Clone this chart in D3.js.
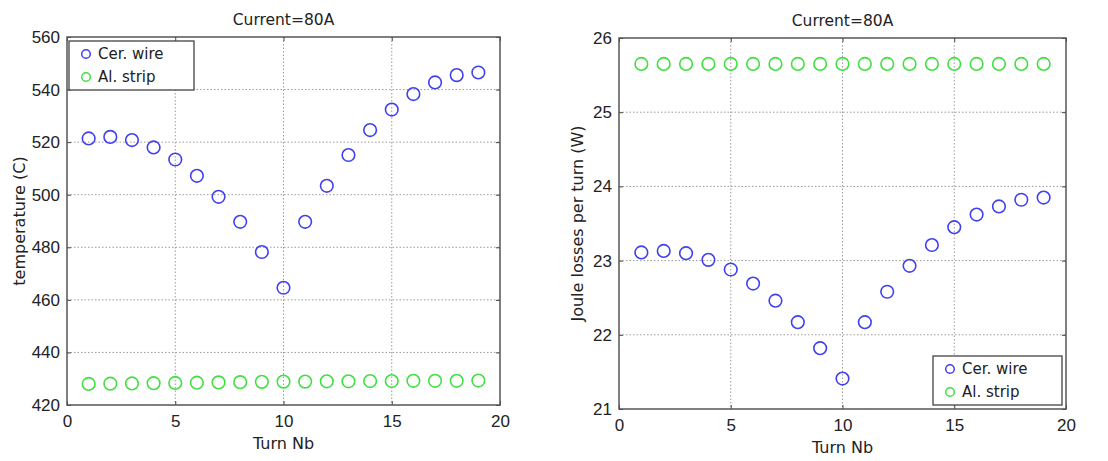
<!DOCTYPE html>
<html>
<head>
<meta charset="utf-8">
<script src="https://cdn.jsdelivr.net/npm/d3@7"></script>
<style>
    body { margin: 0; background: #fff; }
    svg { display: block; font-family: 'DejaVu Sans', Verdana, sans-serif; }
    .grid line { stroke: #9a9a9a; stroke-dasharray: 1.5, 2; stroke-width: 1; }
</style>
</head>
<body>
<svg id="chart" width="1108" height="461"></svg>
<script>
    'use strict';

    const turns = d3.range(1, 20);

    // left panel: temperature (C)
    const tempCerWire = [521.4, 522.0, 520.8, 518.0, 513.4, 507.2, 499.2, 489.7, 478.2, 464.6,
        489.7, 503.4, 515.1, 524.6, 532.4, 538.3, 542.7, 545.5, 546.5];
    const tempAlStrip = [428.0, 428.1, 428.2, 428.3, 428.4, 428.5, 428.6, 428.7, 428.8, 428.9,
        428.9, 429.0, 429.0, 429.1, 429.1, 429.2, 429.2, 429.2, 429.3];

    // right panel: Joule losses per turn (W)
    const lossCerWire = [23.11, 23.13, 23.10, 23.01, 22.88, 22.69, 22.46, 22.17, 21.82, 21.41,
        22.17, 22.58, 22.93, 23.21, 23.45, 23.62, 23.73, 23.82, 23.85];
    const lossAlStrip = [25.65, 25.65, 25.65, 25.65, 25.65, 25.65, 25.65, 25.65, 25.65, 25.65,
        25.65, 25.65, 25.65, 25.65, 25.65, 25.65, 25.65, 25.65, 25.65];

    const xTicks = [0, 5, 10, 15, 20];
    const tempTicks = [420, 440, 460, 480, 500, 520, 540, 560];
    const lossTicks = [21, 22, 23, 24, 25, 26];
    const seriesNames = ['Cer. wire', 'Al. strip'];
    const seriesColors = ['#4040f0', '#40e040'];

    const svg = d3.select('#chart');

    const makePanel = function (opts) {
        const w = opts.right - opts.left;
        const h = opts.bottom - opts.top;
        const g = svg.append('g').attr('transform', 'translate(' + opts.left + ',' + opts.top + ')');

        const x = d3.scaleLinear().domain([0, 20]).range([0, w]);
        const y = d3.scaleLinear().domain(opts.yDomain).range([h, 0]);

        // grid
        const grid = g.append('g').attr('class', 'grid');
        grid.selectAll('.gx').data(xTicks.slice(1, -1)).enter().append('line')
            .attr('x1', function (d) { return x(d); }).attr('x2', function (d) { return x(d); })
            .attr('y1', 0).attr('y2', h);
        grid.selectAll('.gy').data(opts.yTicks.slice(1, -1)).enter().append('line')
            .attr('y1', function (d) { return y(d); }).attr('y2', function (d) { return y(d); })
            .attr('x1', 0).attr('x2', w);

        // axes, ticks pointing inward like matlab
        const xAxis = d3.axisBottom(x).tickValues(xTicks).tickSize(-4).tickPadding(10);
        g.append('g').attr('transform', 'translate(0,' + h + ')').call(xAxis)
            .call(function (a) {
                a.select('.domain').remove();
                a.selectAll('text').style('font-size', '17px').attr('fill', '#222');
                a.selectAll('line').attr('stroke', '#444');
            });
        const yAxis = d3.axisLeft(y).tickValues(opts.yTicks).tickSize(-4).tickPadding(7)
            .tickFormat(d3.format('d'));
        g.append('g').call(yAxis)
            .call(function (a) {
                a.select('.domain').remove();
                a.selectAll('text').style('font-size', '17px').attr('fill', '#222');
                a.selectAll('line').attr('stroke', '#444');
            });
        g.append('g').attr('transform', 'translate(' + w + ',0)')
            .call(d3.axisRight(y).tickValues(opts.yTicks).tickSize(-4).tickFormat(''))
            .call(function (a) { a.select('.domain').remove(); a.selectAll('line').attr('stroke', '#444'); });
        g.append('g')
            .call(d3.axisTop(x).tickValues(xTicks).tickSize(-4).tickFormat(''))
            .call(function (a) { a.select('.domain').remove(); a.selectAll('line').attr('stroke', '#444'); });

        g.append('rect').attr('width', w).attr('height', h)
            .attr('fill', 'none').attr('stroke', '#555').attr('stroke-width', 1.5);

        // markers
        opts.series.forEach(function (vals, i) {
            g.append('g').selectAll('circle').data(vals).enter().append('circle')
                .attr('cx', function (d, j) { return x(turns[j]); })
                .attr('cy', function (d) { return y(d); })
                .attr('r', 6.3)
                .attr('fill', 'none')
                .attr('stroke', seriesColors[i])
                .attr('stroke-width', 1.6);
        });

        // title and labels
        g.append('text').attr('x', w / 2).attr('y', -12).attr('text-anchor', 'middle')
            .style('font-size', '15.5px').attr('fill', '#222').text('Current=80A');
        g.append('text').attr('x', w / 2).attr('y', h + 44).attr('text-anchor', 'middle')
            .style('font-size', '16px').attr('fill', '#222').text('Turn Nb');
        g.append('text')
            .attr('transform', 'translate(' + opts.yLabelX + ',' + (h / 2) + ') rotate(-90)')
            .attr('text-anchor', 'middle').style('font-size', '16px').attr('fill', '#222')
            .text(opts.yLabel);

        // legend
        const lg = g.append('g').attr('transform', 'translate(' + opts.legend[0] + ',' + opts.legend[1] + ')');
        lg.append('rect').attr('width', opts.legend[2]).attr('height', 49)
            .attr('fill', '#fff').attr('stroke', '#444').attr('stroke-width', 1.3);
        seriesNames.forEach(function (name, i) {
            lg.append('circle').attr('cx', 17).attr('cy', 13 + i * 23).attr('r', 4.3)
                .attr('fill', 'none').attr('stroke', seriesColors[i]).attr('stroke-width', 1.5);
            lg.append('text').attr('x', 29).attr('y', 18 + i * 23)
                .style('font-size', '15px').attr('fill', '#222').text(name);
        });
    };

    makePanel({
        left: 67, right: 500, top: 37, bottom: 405,
        yDomain: [420, 560], yTicks: tempTicks,
        yLabel: 'temperature (C)', yLabelX: -42,
        series: [tempCerWire, tempAlStrip],
        legend: [2, 4, 125]
    });

    makePanel({
        left: 619, right: 1066, top: 38, bottom: 409,
        yDomain: [21, 26], yTicks: lossTicks,
        yLabel: 'Joule losses per turn (W)', yLabelX: -36,
        series: [lossCerWire, lossAlStrip],
        legend: [314, 318, 129]
    });
</script>
</body>
</html>
